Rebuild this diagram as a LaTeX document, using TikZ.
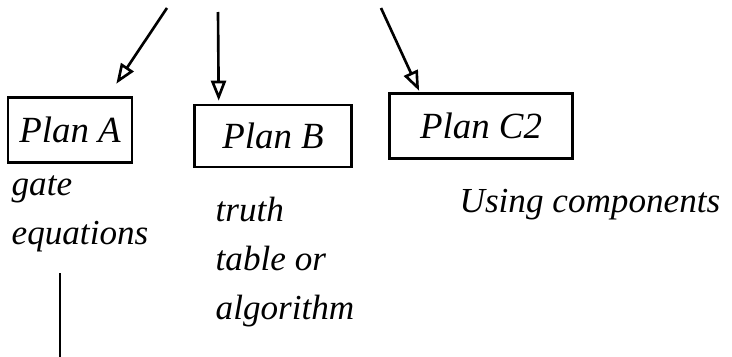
\documentclass[tikz,border=0pt]{standalone}
\usepackage{fontspec}
\setmainfont{Liberation Serif}
\usetikzlibrary{arrows.meta,calc}
\tikzset{
  plan/.style={draw,line width=1.5pt,inner sep=0pt,font=\fontsize{21}{25}\selectfont\itshape},
  note/.style={align=left,font=\fontsize{20}{28}\selectfont\itshape},
  arr/.style={line width=1.5pt,-{Triangle[open,length=4mm,width=3mm]}}
}
\begin{document}
\begin{tikzpicture}[x=0.2mm,y=-0.2mm]
  \useasboundingbox (0,0) rectangle (732,357);
  % the three plans
  \node[plan,minimum width=2.48cm,minimum height=1.3cm] (a) at (70,130) {Plan A};
  \node[plan,minimum width=3.14cm,minimum height=1.24cm] (b) at (273,136) {Plan B};
  \node[plan,minimum width=3.66cm,minimum height=1.3cm] (c) at (481,126) {Plan C2};
  % what each one starts from
  \node[note] (ga) at (80,214) {gate\\equations};
  \node[note] (tt) at (285,262) {truth\\table or\\algorithm};
  \node[note] (uc) at (590,205) {Using components};
  % free ends
  \coordinate (ia) at (167,8);
  \coordinate (ib) at (218,12);
  \coordinate (ic) at (381,8);
  \coordinate (down) at (60,357);
  \begin{scope}
    \draw[arr,shorten >=3mm] (ia) -- ($(a.north)!0.6!(a.north east)$);
    \draw[arr,shorten >=0.6mm] (ib) -- ($(b.north west)!0.16!(b.north east)$);
    \draw[arr,shorten >=0.3mm] (ic) -- ($(c.north west)!0.17!(c.north east)$);
    \draw[line width=1.5pt] ([yshift=-3mm]ga.south -| down) -- (down);
  \end{scope}
\end{tikzpicture}
\end{document}
